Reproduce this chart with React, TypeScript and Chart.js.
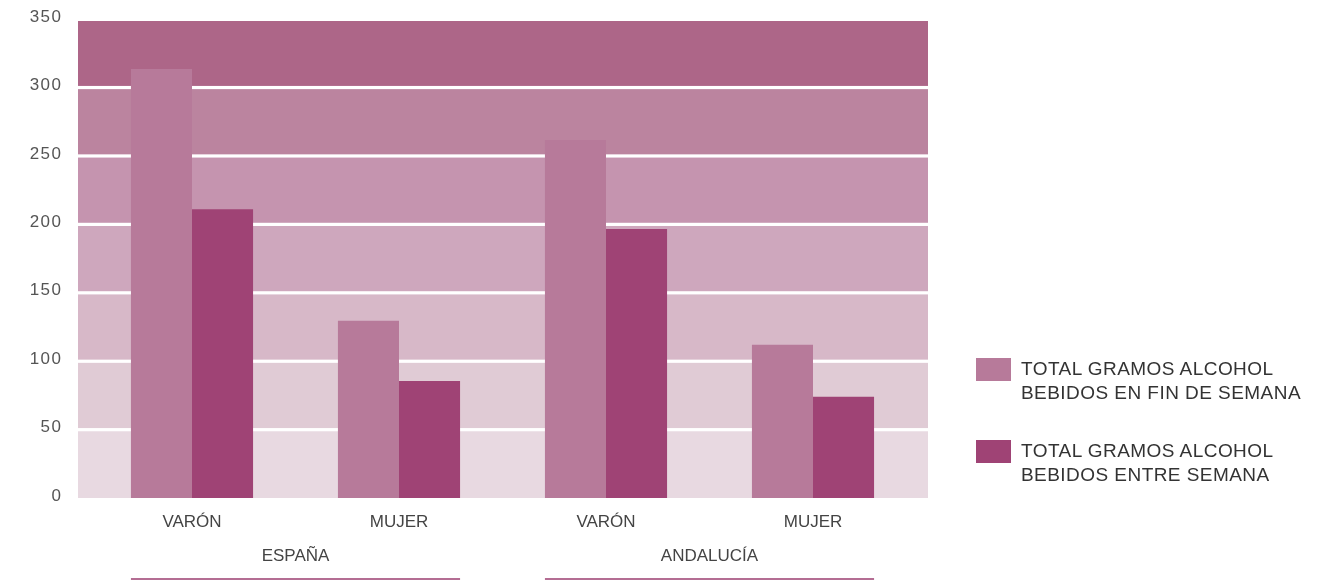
import React, { useEffect, useRef } from "react";
import { Chart, registerables } from "chart.js";

Chart.register(...registerables);

const categories = ["VARÓN", "MUJER", "VARÓN", "MUJER"];
const groups = ["ESPAÑA", "ANDALUCÍA"];
const finDeSemana = [313.5, 129.5, 261.5, 112];
const entreSemana = [211, 85.5, 196.5, 74];
const yTicks = [0, 50, 100, 150, 200, 250, 300, 350];
const seriesLabels = [
  ["TOTAL GRAMOS ALCOHOL", "BEBIDOS EN FIN DE SEMANA"],
  ["TOTAL GRAMOS ALCOHOL", "BEBIDOS ENTRE SEMANA"],
];
const seriesColors = ["#b77a9a", "#9f4375"];
const bandColors = ["#e8d9e1", "#e0cbd5", "#d7b8c8", "#cea7bd", "#c594af", "#bb849f", "#ad6688"];
const FONT = "'Liberation Sans', Arial, sans-serif";

const bandsPlugin = {
  id: "bands",
  beforeDatasetsDraw(chart: any) {
    const { ctx, chartArea, scales } = chart;
    const y = scales.y;
    const x0 = chartArea.left - 10.5;
    const x1 = chartArea.right + 11.5;
    ctx.save();
    for (let i = 0; i < bandColors.length; i++) {
      const top = i === bandColors.length - 1 ? y.getPixelForValue((i + 1) * 50) + 2 : y.getPixelForValue((i + 1) * 50);
      const bottom = y.getPixelForValue(i * 50);
      ctx.fillStyle = bandColors[i];
      ctx.fillRect(x0, top, x1 - x0, bottom - top);
    }
    ctx.fillStyle = "#ffffff";
    for (let v = 50; v <= 300; v += 50) {
      const py = y.getPixelForValue(v);
      ctx.fillRect(x0, py - 1.5, x1 - x0, 3.2);
    }
    // y tick labels
    ctx.font = `17px ${FONT}`;
    ctx.fillStyle = "#555555";
    ctx.textAlign = "right";
    ctx.textBaseline = "middle";
    try { (ctx as any).letterSpacing = "1.5px"; } catch (e) {}
    for (const v of yTicks) {
      ctx.fillText(String(v), chartArea.left - 26, y.getPixelForValue(v) - 2);
    }
    ctx.restore();
  },
  afterDraw(chart: any) {
    const { ctx } = chart;
    const m0 = chart.getDatasetMeta(0).data;
    const m1 = chart.getDatasetMeta(1).data;
    const xs = chart.scales.x;
    ctx.save();
    ctx.font = `17px ${FONT}`;
    ctx.textAlign = "center";
    ctx.textBaseline = "middle";
    for (let g = 0; g < groups.length; g++) {
      const a = g * 2;
      const b = g * 2 + 1;
      const cx = (xs.getPixelForValue(a) + xs.getPixelForValue(b)) / 2;
      ctx.fillStyle = "#444444";
      ctx.fillText(groups[g], cx, 556);
      const left = m0[a].x - m0[a].width / 2;
      const right = m1[b].x + m1[b].width / 2;
      ctx.fillStyle = "#b46d93";
      ctx.fillRect(left, 578, right - left, 2);
    }
    ctx.restore();
  },
};

export default function App() {
  const ref = useRef<HTMLCanvasElement>(null);
  useEffect(() => {
    if (!ref.current) return;
    const chart = new Chart(ref.current, {
      type: "bar",
      data: {
        labels: categories,
        datasets: [
          { label: seriesLabels[0].join(" "), data: finDeSemana, backgroundColor: seriesColors[0] },
          { label: seriesLabels[1].join(" "), data: entreSemana, backgroundColor: seriesColors[1] },
        ],
      },
      options: {
        animation: false,
        responsive: true,
        maintainAspectRatio: false,
        layout: { padding: { left: 0, right: 424.5, top: 19, bottom: 0 } },
        datasets: { bar: { categoryPercentage: 0.59, barPercentage: 1 } },
        plugins: { legend: { display: false }, tooltip: { enabled: false } },
        scales: {
          x: {
            grid: { display: false, drawTicks: false },
            border: { display: false },
            ticks: { color: "#444444", font: { family: FONT, size: 17 }, padding: 13.8, maxRotation: 0 },
            afterFit(scale: any) {
              scale.height = 82;
            },
          },
          y: {
            min: 0,
            max: 350,
            grid: { display: false, drawTicks: false },
            border: { display: false },
            ticks: { display: false, stepSize: 50 },
            afterFit(scale: any) {
              scale.width = 88.5;
            },
          },
        },
      },
      plugins: [bandsPlugin],
    });
    return () => chart.destroy();
  }, []);

  return (
    <div style={{ position: "fixed", left: 0, top: 0, width: 1341, height: 580, background: "#fff" }}>
      <canvas ref={ref} />
      {seriesLabels.map((lines, i) => (
        <div key={i} style={{ position: "absolute", left: 976, top: i === 0 ? 358 : 440, display: "flex", alignItems: "flex-start" }}>
          <div style={{ width: 35, height: 23, background: seriesColors[i] }} />
          <div
            style={{
              marginLeft: 10,
              marginTop: -1,
              fontFamily: FONT,
              fontSize: 19,
              lineHeight: "24px",
              color: "#333333",
              letterSpacing: 0.45,
            }}
          >
            {lines[0]}
            <br />
            {lines[1]}
          </div>
        </div>
      ))}
    </div>
  );
}
